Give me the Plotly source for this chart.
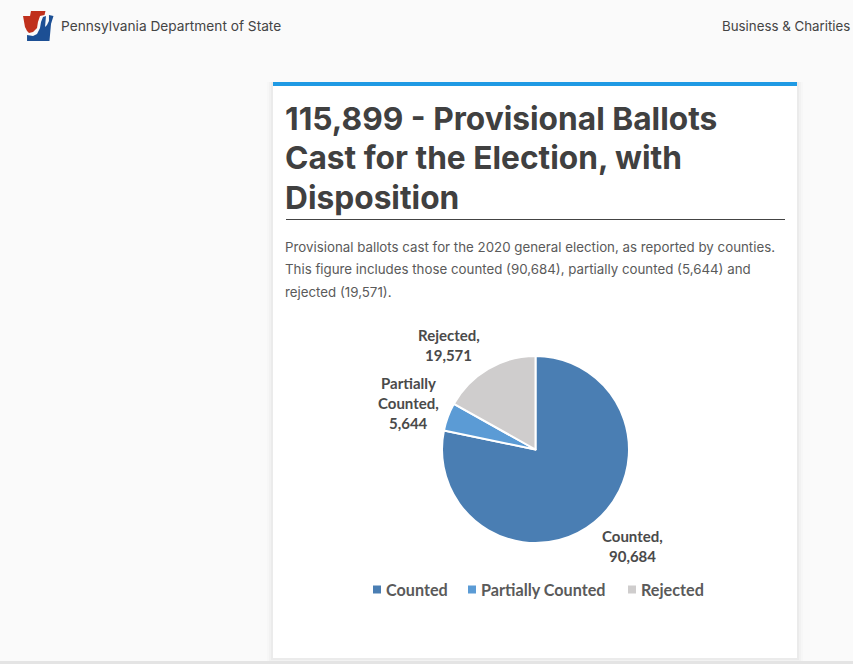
import plotly.graph_objects as go

labels = ['Counted', 'Partially Counted', 'Rejected']
values = [90684, 5644, 19571]
colors = ['#4a7eb3', '#5b9bd5', '#cfcdcd']

W = 853
H = 664


def px(x):
    return x / W


def py(y):
    return 1 - y / H


def pth(points):
    return 'M' + 'L'.join(f'{px(a):.4f},{py(b):.4f}' for a, b in points) + 'Z'


def rect(x0, y0, x1, y1, color):
    return dict(type='rect', xref='paper', yref='paper', x0=px(x0), x1=px(x1), y0=py(y0), y1=py(y1),
                fillcolor=color, line_width=0, layer='below')


fig = go.Figure(go.Pie(
    labels=labels,
    values=values,
    sort=False,
    direction='clockwise',
    rotation=0,
    textinfo='none',
    hoverinfo='label+value',
    marker=dict(colors=colors, line=dict(color='white', width=2)),
    domain=dict(x=[px(442), px(629)], y=[py(543), py(356)]),
))

shapes = []
# card shadow, then the card itself
for grow, c in [(6, '#f7f7f7'), (4, '#f2f2f2'), (2, '#ebebeb')]:
    shapes.append(rect(273 - grow, 82, 797 + grow, 658 + grow, c))
shapes.append(rect(273, 82, 797, 658, 'white'))
shapes.append(rect(273, 82, 797, 86, '#1f9ae4'))
shapes.append(rect(286, 219, 785, 220, '#444444'))
# grey strip at the bottom of the page
shapes.append(rect(0, 661, 853, 664, '#e4e4e4'))

# keystone logo
shapes.append(dict(type='path', xref='paper', yref='paper', fillcolor='#c0301c', line_width=0,
                   path=pth([(23, 16), (30, 16), (31, 11), (45.5, 11), (44.5, 15), (40, 16), (38, 22), (37, 28),
                             (33, 32), (29, 33), (27, 31), (25, 27)])))
shapes.append(dict(type='path', xref='paper', yref='paper', fillcolor='#1c4f94', line_width=0,
                   path=pth([(27, 35), (33, 36), (37, 34), (40, 28), (41, 22), (43, 17), (46, 16), (45, 27),
                             (47, 25), (49, 21), (49, 15), (53.5, 16), (51, 24), (49.5, 41), (27, 41)])))


def note(text, x, y, size, color='#444444', family='Lato', anchor='center', bold=False):
    if bold:
        text = f'<b>{text}</b>'
    return dict(text=text, x=px(x), y=py(y), xref='paper', yref='paper', showarrow=False,
                xanchor=anchor, yanchor='middle', align=anchor,
                font=dict(family=family, size=size, color=color))


annotations = [
    note('Pennsylvania Department of State', 59, 26, 13.7, '#444444', 'Inter', 'left'),
    note('Business &amp; Charities', 852, 26, 13.3, '#444444', 'Inter', 'right'),
    note('115,899 - Provisional Ballots', 282.5, 118, 31.7, '#404040', 'Inter', 'left', True),
    note('Cast for the Election, with', 282.5, 158, 31.7, '#404040', 'Inter', 'left', True),
    note('Disposition', 282.5, 198, 31.7, '#404040', 'Inter', 'left', True),
    note('Provisional ballots cast for the 2020 general election, as reported by counties.', 283, 247, 13.3,
         '#5a5a5a', 'Inter', 'left'),
    note('This figure includes those counted (90,684), partially counted (5,644) and', 283, 269, 13.3,
         '#5a5a5a', 'Inter', 'left'),
    note('rejected (19,571).', 283, 292, 13.3, '#5a5a5a', 'Inter', 'left'),
    note('Rejected,', 449, 335, 15, '#4a4a4a', bold=True),
    note('19,571', 449, 355, 15, '#4a4a4a', bold=True),
    note('Partially', 408, 383, 15, '#4a4a4a', bold=True),
    note('Counted,', 408, 403, 15, '#4a4a4a', bold=True),
    note('5,644', 408, 423, 15, '#4a4a4a', bold=True),
    note('Counted,', 632.5, 536, 15, '#4a4a4a', bold=True),
    note('90,684', 632.5, 556, 15, '#4a4a4a', bold=True),
]

# legend row: small squares with the series names next to them
legend_left = [373, 468, 628]
for name, color, left in zip(labels, colors, legend_left):
    shapes.append(rect(left, 585.5, left + 8, 593.5, color))
    annotations.append(note(name, left + 11, 589, 16.2, '#5a5a5a', 'Lato', 'left', True))

fig.update_layout(
    width=W,
    height=H,
    margin=dict(l=0, r=0, t=0, b=0),
    paper_bgcolor='#fafafa',
    shapes=shapes,
    annotations=annotations,
    showlegend=False,
)

fig.write_html('out.html', post_script="document.body.style.margin='0';", config=dict(displayModeBar=False))
